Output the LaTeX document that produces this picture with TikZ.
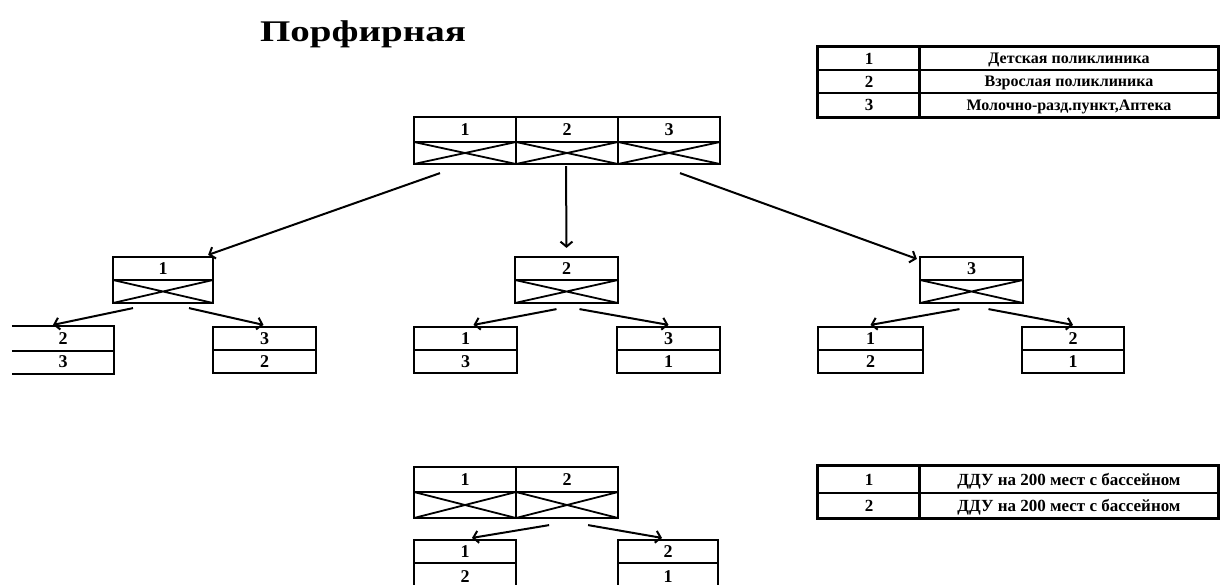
\documentclass[tikz,border=0pt]{standalone}
\usepackage{fontspec}
\setmainfont{Liberation Serif}
\usetikzlibrary{arrows.meta,calc}
\newcommand{\boxcell}[7][]{\node[cell,#1,minimum width={#4-#2},minimum height={#5-#3}] (#6) at ({(#2+#4)/2},{(#3+#5)/2}) {#7};}
\begin{document}
\begin{tikzpicture}[x=1pt,y=-1pt,
  cell/.style={draw,line width=2.2pt,rectangle,inner sep=0pt,font=\bfseries\fontsize{18}{18}\selectfont},
  xcell/.style={path picture={\draw[line width=1.8pt] (path picture bounding box.north west) -- (path picture bounding box.south east) (path picture bounding box.south west) -- (path picture bounding box.north east);}},
  openleft/.style={draw=none},
  legcell/.style={line width=1.3pt,font=\bfseries\fontsize{17}{17}\selectfont},
  legtext/.style={line width=1.3pt,text depth=0pt,font=\bfseries\fontsize{16}{16}\selectfont},
  legtextb/.style={line width=1.3pt,text depth=0pt,font=\bfseries\fontsize{17}{17}\selectfont},
  frame/.style={line width=3pt},
  arr/.style={line width=2pt,-{Straight Barb[length=5pt,width=12pt]}},
  title/.style={font=\bfseries\fontsize{30}{30}\selectfont}
]
\useasboundingbox (0,0) rectangle (1223,584);
\node[title] (title) at (363,34) {\scalebox{1.3}[1]{Порфирная}};

% top box
\boxcell{414}{117}{516}{142}{a1}{1}
\boxcell{516}{117}{618}{142}{a2}{2}
\boxcell{618}{117}{720}{142}{a3}{3}
\boxcell[xcell]{414}{142}{516}{164}{a1x}{}
\boxcell[xcell]{516}{142}{618}{164}{a2x}{}
\boxcell[xcell]{618}{142}{720}{164}{a3x}{}

% level 2
\boxcell{113}{257}{213}{280}{b1}{1}
\boxcell[xcell]{113}{280}{213}{303}{b1x}{}
\boxcell{515}{257}{618}{280}{b2}{2}
\boxcell[xcell]{515}{280}{618}{303}{b2x}{}
\boxcell{920}{257}{1023}{280}{b3}{3}
\boxcell[xcell]{920}{280}{1023}{303}{b3x}{}

% level 3
\boxcell[openleft]{13}{327}{113}{350}{c11}{2}
\boxcell[openleft]{13}{350}{113}{373}{c11b}{3}
\draw[line width=2.2pt] (c11.north west) -- (c11.north east) -- (c11b.south east) -- (c11b.south west)
  (c11.south west) -- (c11.south east);
\boxcell{213}{327}{316}{350}{c12}{3}
\boxcell{213}{350}{316}{373}{c12b}{2}
\boxcell{414}{327}{517}{350}{c21}{1}
\boxcell{414}{350}{517}{373}{c21b}{3}
\boxcell{617}{327}{720}{350}{c22}{3}
\boxcell{617}{350}{720}{373}{c22b}{1}
\boxcell{818}{327}{923}{350}{c31}{1}
\boxcell{818}{350}{923}{373}{c31b}{2}
\boxcell{1022}{327}{1124}{350}{c32}{2}
\boxcell{1022}{350}{1124}{373}{c32b}{1}

% bottom group
\boxcell{414}{467}{516}{492}{d1}{1}
\boxcell{516}{467}{618}{492}{d2}{2}
\boxcell[xcell]{414}{492}{516}{518}{d1x}{}
\boxcell[xcell]{516}{492}{618}{518}{d2x}{}
\boxcell{414}{540}{516}{563}{e1}{1}
\boxcell{414}{563}{516}{590}{e1b}{2}
\boxcell{618}{540}{718}{563}{e2}{2}
\boxcell{618}{563}{718}{590}{e2b}{1}

% arrows
\draw[arr] ($(a1x.south)+(-25,8)$) -- ($(b1.north east)+(-6,-1)$);
\draw[arr] ($(a2x.south)+(-1,1)$) -- ($(b2.north)+(0,-8)$);
\draw[arr] ($(a3x.south)+(11,8)$) -- ($(b3.north west)+(-2,3)$);

\draw[arr] ($(b1x.south)+(-30,4)$) -- ($(c11.north)+(-10,-1)$);
\draw[arr] ($(b1x.south)+(26,4)$) -- ($(c12.north)+(-1,-1)$);
\draw[arr] ($(b2x.south)+(-10,5)$) -- ($(c21.north)+(8,-1)$);
\draw[arr] ($(b2x.south)+(13,5)$) -- ($(c22.north)+(0,-1)$);
\draw[arr] ($(b3x.south)+(-12,5)$) -- ($(c31.north)+(0,-1)$);
\draw[arr] ($(b3x.south)+(17,5)$) -- ($(c32.north)+(0,-1)$);

\draw[arr] ($(d1x.south east)+(32,6)$) -- ($(e1.north)+(7,-1)$);
\draw[arr] ($(d1x.south east)+(71,6)$) -- ($(e2.north)+(-6,-1)$);

% legend 1
\boxcell[legcell]{818}{47}{920}{70}{g1n}{1}
\boxcell[legtext]{920}{47}{1218}{70}{g1t}{Детская поликлиника}
\boxcell[legcell]{818}{70}{920}{93}{g2n}{2}
\boxcell[legtext]{920}{70}{1218}{93}{g2t}{Взрослая поликлиника}
\boxcell[legcell]{818}{93}{920}{117}{g3n}{3}
\boxcell[legtext]{920}{93}{1218}{117}{g3t}{Молочно-разд.пункт,Аптека}
\draw[frame] (g1n.north west) rectangle (g3t.south east);
\draw[frame] (g1t.north west) -- (g3t.south west);

% legend 2
\boxcell[legcell]{818}{466}{920}{493}{h1n}{1}
\boxcell[legtextb]{920}{466}{1218}{493}{h1t}{ДДУ на 200 мест с бассейном}
\boxcell[legcell]{818}{493}{920}{518}{h2n}{2}
\boxcell[legtextb]{920}{493}{1218}{518}{h2t}{ДДУ на 200 мест с бассейном}
\draw[frame] (h1n.north west) rectangle (h2t.south east);
\draw[frame] (h1t.north west) -- (h2t.south west);
\end{tikzpicture}
\end{document}
